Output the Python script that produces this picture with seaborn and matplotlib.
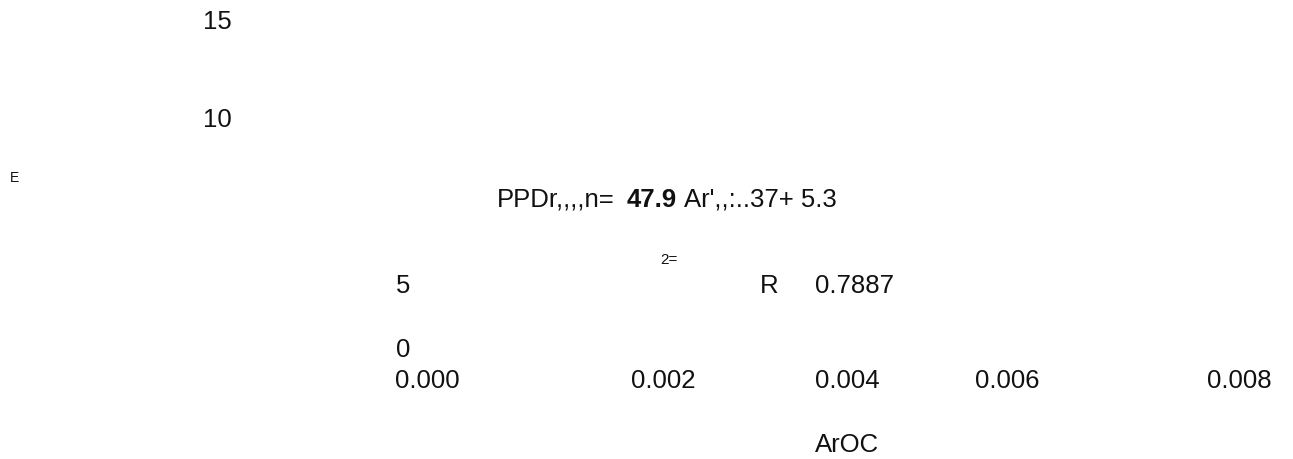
import matplotlib
matplotlib.use("Agg")
import matplotlib.pyplot as plt
import seaborn as sns
import pandas as pd

# ---- data (text content) ----
y_tick_labels = ["15", "10", "5", "0"]
x_tick_labels = ["0.000", "0.002", "0.004", "0.006", "0.008"]
x_label = "ArOC"
y_label = "E"
eq_parts = ["PPDr,,,,n=", "47.9", "Ar',,:..37+ 5.3"]
r2_sup = "2="
r2_label = "R"
r2_value = "0.7887"

# ---- layout (pixel positions in a 1293x459 canvas; baseline y) ----
y_tick_pos = [(203, 29), (203, 127), (396, 293), (396, 357)]
x_tick_pos = [(395, 388), (631, 388), (815, 388), (975, 388), (1207, 388)]
x_label_pos = (815, 452)
y_label_pos = (10, 182)
eq_pos = [(497, 207, "normal"), (627, 207, "bold"), (684, 207, "normal")]
r2_sup_pos = (660, 264)
r2_label_pos = (760, 293)
r2_value_pos = (815, 293)

sns.set_theme(style="white")
plt.rcParams["font.family"] = ["Liberation Sans", "DejaVu Sans"]

W, H = 1293, 459
fig = plt.figure(figsize=(W / 100, H / 100), dpi=100)
ax = fig.add_axes([0, 0, 1, 1])
sns.scatterplot(data=pd.DataFrame({"x": [], "y": []}), x="x", y="y", ax=ax)
ax.set_xlim(0, W)
ax.set_ylim(H, 0)
ax.axis("off")

FS = 18.5
col = "#111111"

for lab, (x, y) in zip(y_tick_labels, y_tick_pos):
    ax.text(x, y, lab, fontsize=FS, color=col, ha="left", va="baseline")
for lab, (x, y) in zip(x_tick_labels, x_tick_pos):
    ax.text(x, y, lab, fontsize=FS, color=col, ha="left", va="baseline")
ax.text(*x_label_pos, x_label, fontsize=FS, color=col, ha="left", va="baseline")
ax.text(*y_label_pos, y_label, fontsize=10, color=col, ha="left", va="baseline")
for part, (x, y, w) in zip(eq_parts, eq_pos):
    ax.text(x, y, part, fontsize=FS, fontweight=w, color=col, ha="left", va="baseline")
ax.text(*r2_sup_pos, r2_sup, fontsize=11, color=col, ha="left", va="baseline")
ax.text(*r2_label_pos, r2_label, fontsize=FS, color=col, ha="left", va="baseline")
ax.text(*r2_value_pos, r2_value, fontsize=FS, color=col, ha="left", va="baseline")

fig.savefig("out.png", dpi=100, facecolor="white")
